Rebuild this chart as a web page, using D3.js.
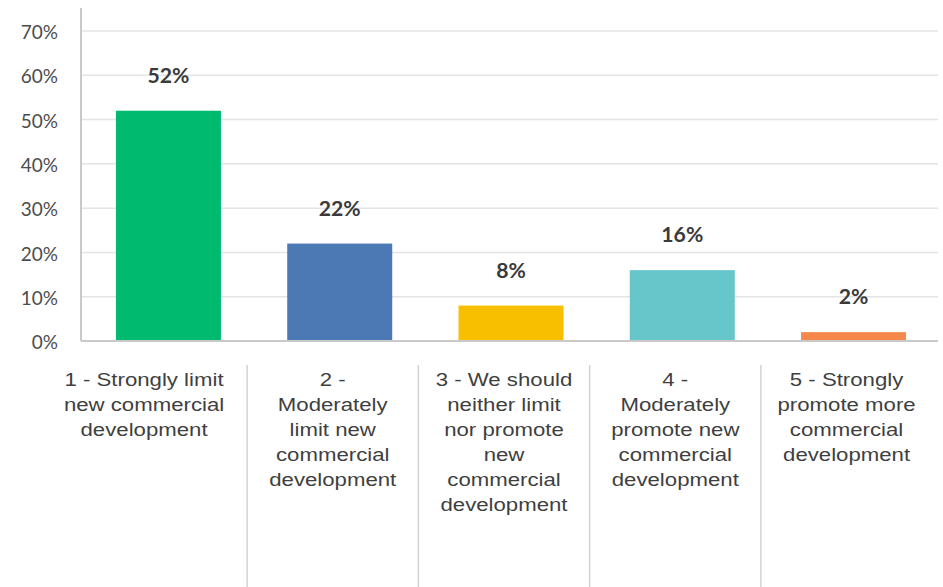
<!DOCTYPE html>
<html>
<head>
<meta charset="utf-8">
<script src="https://cdn.jsdelivr.net/npm/d3@7"></script>
<style>
  html, body { margin: 0; padding: 0; background: #fff; }
  svg { display: block; }
</style>
</head>
<body>
<svg id="chart" width="943" height="587"></svg>
<script>
// Survey responses: attitude toward new commercial development
const categories = [
  "1 - Strongly limit new commercial development",
  "2 - Moderately limit new commercial development",
  "3 - We should neither limit nor promote new commercial development",
  "4 - Moderately promote new commercial development",
  "5 - Strongly promote more commercial development"
];
const categoryLines = [
  ["1 - Strongly limit", "new commercial", "development"],
  ["2 -", "Moderately", "limit new", "commercial", "development"],
  ["3 - We should", "neither limit", "nor promote", "new", "commercial", "development"],
  ["4 -", "Moderately", "promote new", "commercial", "development"],
  ["5 - Strongly", "promote more", "commercial", "development"]
];
const values = [52, 22, 8, 16, 2];
const yTicks = [0, 10, 20, 30, 40, 50, 60, 70];
const barColors = ["#00ba6f", "#4c78b3", "#f7bf00", "#67c6c9", "#f5884b"];

const svg = d3.select("#chart");
const W = 943, H = 587;
const plotLeft = 81, plotRight = 938, plotTop = 31, plotBottom = 341;
const textStretch = 1.2; // labels are set slightly wide

const x = d3.scaleBand()
  .domain(categories)
  .range([plotLeft, 941])
  .paddingInner(0.387)
  .paddingOuter(0.204);

const y = d3.scaleLinear().domain([0, 70]).range([plotBottom, plotTop]);

// horizontal gridlines
svg.append("g")
  .selectAll("line")
  .data(yTicks.filter(t => t > 0))
  .join("line")
  .attr("x1", plotLeft).attr("x2", plotRight)
  .attr("y1", d => y(d)).attr("y2", d => y(d))
  .attr("stroke", "#e4e4e4")
  .attr("stroke-width", 1.5);

// y axis tick labels
const yAxis = d3.axisLeft(y)
  .tickValues(yTicks)
  .tickFormat(d => d + "%")
  .tickSize(0)
  .tickPadding(23);
const gy = svg.append("g").attr("transform", `translate(${plotLeft},0)`).call(yAxis);
gy.select(".domain").remove();
gy.selectAll("text")
  .attr("font-family", "Lato, 'Open Sans', sans-serif")
  .attr("font-size", 19)
  .attr("fill", "#4d4d4d")
  .attr("dy", "0.4em");

// bars
svg.append("g")
  .selectAll("rect")
  .data(values)
  .join("rect")
  .attr("x", (d, i) => x(categories[i]))
  .attr("width", x.bandwidth())
  .attr("y", d => y(d))
  .attr("height", d => y(0) - y(d))
  .attr("fill", (d, i) => barColors[i]);

// value labels
svg.append("g")
  .selectAll("text")
  .data(values)
  .join("text")
  .attr("transform", (d, i) =>
    `translate(${x(categories[i]) + x.bandwidth() / 2},${y(d) - 28}) scale(1.06,1)`)
  .attr("text-anchor", "middle")
  .attr("font-family", "Lato, 'Open Sans', sans-serif")
  .attr("font-weight", "bold")
  .attr("font-size", 20)
  .attr("fill", "#3a3a3a")
  .text(d => d + "%");

// axis lines
svg.append("line")
  .attr("x1", plotLeft).attr("x2", plotLeft)
  .attr("y1", 8).attr("y2", plotBottom)
  .attr("stroke", "#c9c9c9").attr("stroke-width", 2);
svg.append("line")
  .attr("x1", plotLeft).attr("x2", plotRight)
  .attr("y1", plotBottom).attr("y2", plotBottom)
  .attr("stroke", "#c9c9c9").attr("stroke-width", 2);

// category label table: cell dividers and wrapped text
const step = x.step();
const cellShift = -7;
const dividers = categories.slice(1).map(c => x(c) - step * x.paddingInner() / 2 + cellShift);
const cellEdges = [41, ...dividers, dividers[dividers.length - 1] + step];

svg.append("g")
  .selectAll("line")
  .data(dividers)
  .join("line")
  .attr("x1", d => d).attr("x2", d => d)
  .attr("y1", 365).attr("y2", H)
  .attr("stroke", "#d2d2d2")
  .attr("stroke-width", 1.5);

const labels = svg.append("g")
  .selectAll("text")
  .data(categoryLines)
  .join("text")
  .attr("text-anchor", "middle")
  .attr("font-family", "'Liberation Sans', Arial, sans-serif")
  .attr("font-size", 18.5)
  .attr("fill", "#3f3f3f")
  .attr("transform", (d, i) =>
    `translate(${(cellEdges[i] + cellEdges[i + 1]) / 2},386) scale(${textStretch},1)`);

labels.selectAll("tspan")
  .data(d => d)
  .join("tspan")
  .attr("x", 0)
  .attr("y", (d, j) => j * 25)
  .text(d => d);
</script>
</body>
</html>
